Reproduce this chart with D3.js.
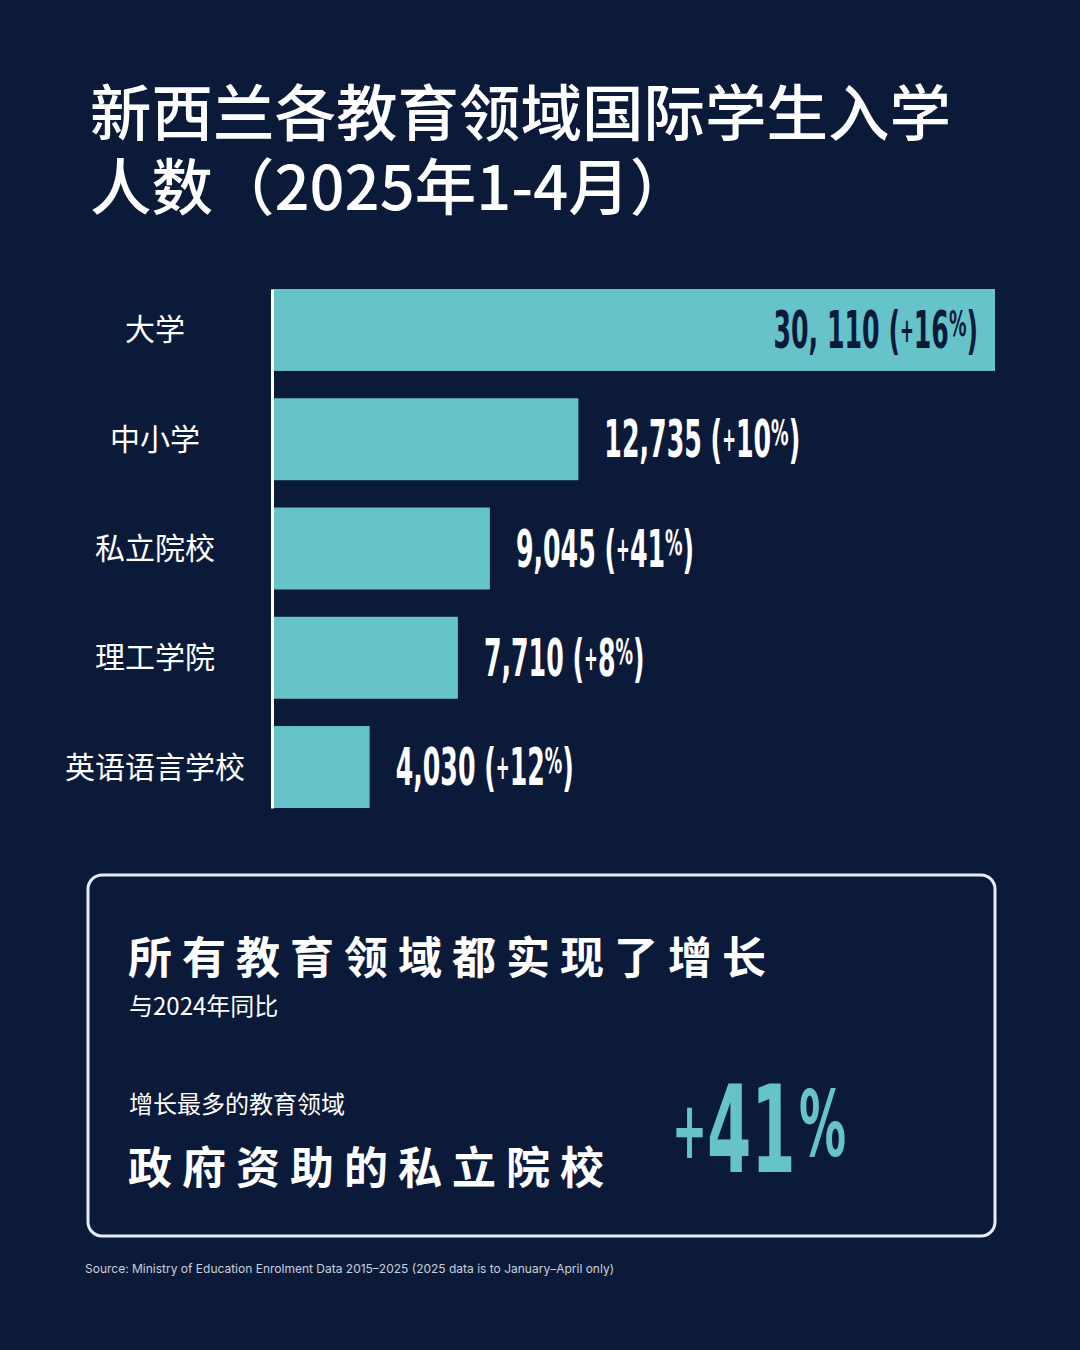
<!DOCTYPE html>
<html>
<head>
  <meta charset="utf-8">
  <script src="https://d3js.org/d3.v7.min.js"></script>
  <style>
    body { margin: 0; background: #0c1a3a; }
    svg { display: block; }
    .cjk { font-family: "Noto Sans CJK SC", "Noto Sans", sans-serif; }
    .num { font-family: "Liberation Sans Narrow", "DejaVu Sans Condensed", "Roboto", sans-serif; font-weight: bold; }
  </style>
</head>
<body>
  <div id="chart"></div>

  <script>
    // data
    const categories = ["大学", "中小学", "私立院校", "理工学院", "英语语言学校"];
    const enrolments = [30110, 12735, 9045, 7710, 4030];
    const valueLabels = ["30, 110", "12,735", "9,045", "7,710", "4,030"];
    const growth = [16, 10, 41, 8, 12];

    const W = 1080, H = 1350;
    const bg = "#0c1a3a", teal = "#66c3ca";

    const svg = d3.select("#chart")
      .append("svg")
        .attr("width", W)
        .attr("height", H);

    svg.append("rect").attr("width", W).attr("height", H).attr("fill", bg);

    // title, two lines
    svg.append("text")
      .attr("class", "cjk")
      .attr("x", 90).attr("y", 136)
      .attr("fill", "#fff")
      .attr("font-size", 61.5)
      .attr("font-weight", 500)
      .text("新西兰各教育领域国际学生入学");
    svg.append("text")
      .attr("class", "cjk")
      .attr("x", 90).attr("y", 210)
      .attr("fill", "#fff")
      .attr("font-size", 61.5)
      .attr("font-weight", 500)
      .text("人数（2025年1-4月）");

    // scales
    const x = d3.scaleLinear()
      .domain([0, d3.max(enrolments)])
      .range([273, 995]);

    const y = d3.scaleBand()
      .domain(categories)
      .range([289, 808])
      .paddingInner(0.25)
      .paddingOuter(0);

    const rows = categories.map((c, i) => ({
      cat: c, value: enrolments[i], label: valueLabels[i], pct: growth[i]
    }));

    // bars
    svg.append("g")
      .selectAll("rect")
      .data(rows)
      .join("rect")
        .attr("x", x(0))
        .attr("y", d => y(d.cat))
        .attr("width", d => x(d.value) - x(0))
        .attr("height", y.bandwidth())
        .attr("fill", teal);

    // axis line
    svg.append("g")
      .attr("transform", `translate(${x(0) - 1},0)`)
      .call(d3.axisLeft(y).tickSize(0).tickFormat(""))
      .call(g => g.select(".domain").attr("stroke", "#fff").attr("stroke-width", 3));

    // category labels
    svg.append("g")
      .selectAll("text")
      .data(rows)
      .join("text")
        .attr("class", "cjk")
        .attr("x", 155)
        .attr("y", d => y(d.cat) + y.bandwidth() / 2)
        .attr("dy", "0.35em")
        .attr("text-anchor", "middle")
        .attr("fill", "#fff")
        .attr("font-size", 30)
        .text(d => d.cat);

    // value labels (condensed)
    const sx = 0.54;
    const vl = svg.append("g")
      .selectAll("text")
      .data(rows)
      .join("text")
        .attr("class", "num")
        .attr("font-size", 52)
        .attr("fill", (d, i) => i === 0 ? bg : "#fff")
        .attr("text-anchor", (d, i) => i === 0 ? "end" : "start")
        .attr("transform", (d, i) => {
          const tx = i === 0 ? x(d.value) - 17 : x(d.value) + 26;
          const ty = y(d.cat) + y.bandwidth() / 2 + 18;
          return `translate(${tx},${ty}) scale(${sx},1)`;
        });
    vl.append("tspan").text(d => d.label + " (");
    vl.append("tspan").attr("font-size", 34).attr("dy", -6).text("+");
    vl.append("tspan").attr("dy", 6).text(d => d.pct);
    vl.append("tspan").attr("font-size", 36).attr("dy", -12).text("%");
    vl.append("tspan").attr("dy", 12).text(")");

    // summary box
    svg.append("rect")
      .attr("x", 88).attr("y", 875)
      .attr("width", 907).attr("height", 361)
      .attr("rx", 14)
      .attr("fill", "none")
      .attr("stroke", "#e8edf3")
      .attr("stroke-width", 3);

    svg.append("text")
      .attr("class", "cjk")
      .attr("x", 128).attr("y", 974)
      .attr("fill", "#fff")
      .attr("font-size", 44)
      .attr("font-weight", "bold")
      .attr("letter-spacing", 10)
      .text("所有教育领域都实现了增长");

    svg.append("text")
      .attr("class", "cjk")
      .attr("x", 129).attr("y", 1015)
      .attr("fill", "#fff")
      .attr("font-size", 24)
      .text("与2024年同比");

    svg.append("text")
      .attr("class", "cjk")
      .attr("x", 129).attr("y", 1113)
      .attr("fill", "#fff")
      .attr("font-size", 24)
      .text("增长最多的教育领域");

    svg.append("text")
      .attr("class", "cjk")
      .attr("x", 128).attr("y", 1184)
      .attr("fill", "#fff")
      .attr("font-size", 44)
      .attr("font-weight", "bold")
      .attr("letter-spacing", 10)
      .text("政府资助的私立院校");

    const big = svg.append("text")
      .attr("class", "num")
      .attr("fill", teal)
      .attr("font-size", 122)
      .attr("transform", `translate(672,1172) scale(0.58,1)`);
    big.append("tspan").attr("font-size", 80).attr("dy", -14).text("+");
    big.append("tspan").attr("dy", 14).text(growth[2]);
    big.append("tspan").attr("font-size", 90).attr("dx", 6).attr("dy", -16).text("%");

    // source
    svg.append("text")
      .attr("x", 85).attr("y", 1273)
      .attr("fill", "#c9d0dc")
      .attr("font-family", "Inter, 'Noto Sans', sans-serif")
      .attr("font-size", 12)
      .text("Source: Ministry of Education Enrolment Data 2015–2025 (2025 data is to January–April only)");
  </script>
</body>
</html>
